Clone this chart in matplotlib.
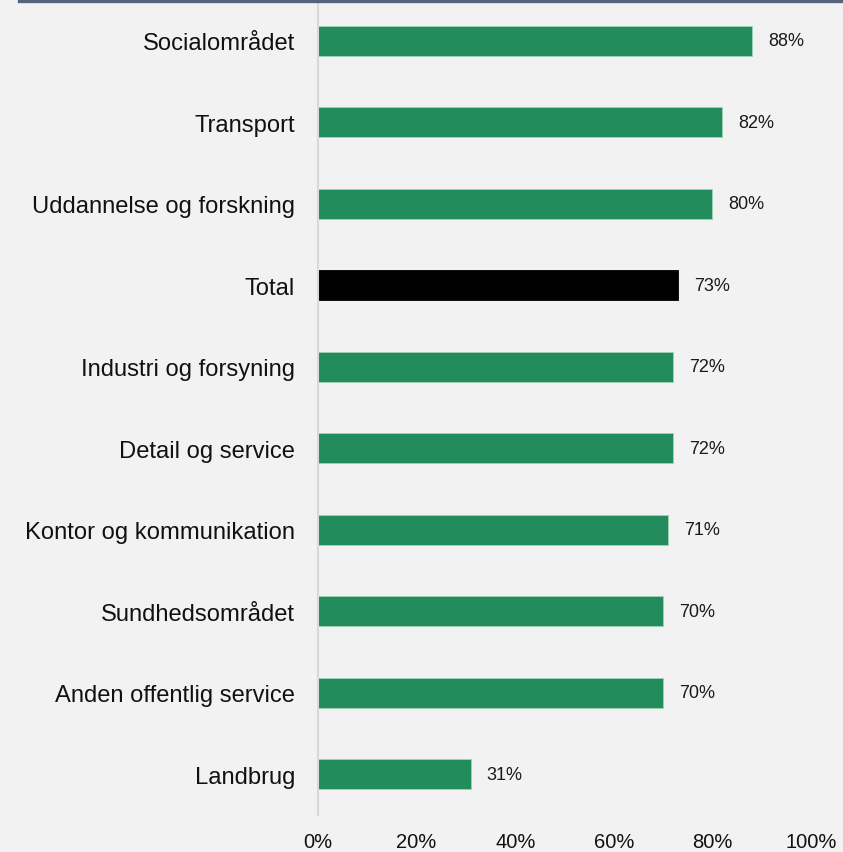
import matplotlib.pyplot as plt
from matplotlib.lines import Line2D

plt.rcParams['font.family'] = ['Liberation Sans', 'DejaVu Sans']

categories = [
    "Socialområdet",
    "Transport",
    "Uddannelse og forskning",
    "Total",
    "Industri og forsyning",
    "Detail og service",
    "Kontor og kommunikation",
    "Sundhedsområdet",
    "Anden offentlig service",
    "Landbrug",
]
values = [88, 82, 80, 73, 72, 72, 71, 70, 70, 31]
value_labels = ["88%", "82%", "80%", "73%", "72%", "72%", "71%", "70%", "70%", "31%"]
x_ticks = [0, 20, 40, 60, 80, 100]
x_tick_labels = ["0%", "20%", "40%", "60%", "80%", "100%"]

bg = "#f2f2f2"
green = "#238c5d"

fig = plt.figure(figsize=(8.43, 8.53), dpi=100, facecolor=bg)
ax = fig.add_axes([318 / 843, 1 - 816 / 853, (811 - 318) / 843, 815 / 853])
ax.set_facecolor(bg)

colors = ["black" if c == "Total" else green for c in categories]
ypos = list(range(len(categories)))
ax.barh(ypos, values, height=0.37, color=colors, edgecolor="#9fd3b5", linewidth=0.6)
# Total bar without light edge
ax.patches[categories.index("Total")].set_edgecolor("black")

for y, v, lab in zip(ypos, values, value_labels):
    ax.annotate(lab, (v, y), xytext=(11.5, 0), textcoords="offset points",
                va="center", ha="left", fontsize=13, color="#1a1a1a")

ax.set_xlim(0, 100)
ax.set_ylim(len(categories) - 0.5, -0.5)
ax.set_yticks(ypos)
ax.set_yticklabels(categories, fontsize=17.1, color="#111111")
ax.set_xticks(x_ticks)
ax.set_xticklabels(x_tick_labels, fontsize=14.5, color="#111111")
ax.tick_params(axis="y", length=0, pad=16.5)
ax.tick_params(axis="x", length=0, pad=12)

for s in ["top", "right", "bottom"]:
    ax.spines[s].set_visible(False)
ax.spines["left"].set_color("#d9d9d9")
ax.spines["left"].set_linewidth(1.5)

# dark rule across the top
fig.add_artist(Line2D([19 / 843, 1], [1 - 1.5 / 853, 1 - 1.5 / 853],
                      transform=fig.transFigure, color="#56637d", linewidth=2.4))

fig.savefig("out.png", dpi=100, facecolor=bg)
